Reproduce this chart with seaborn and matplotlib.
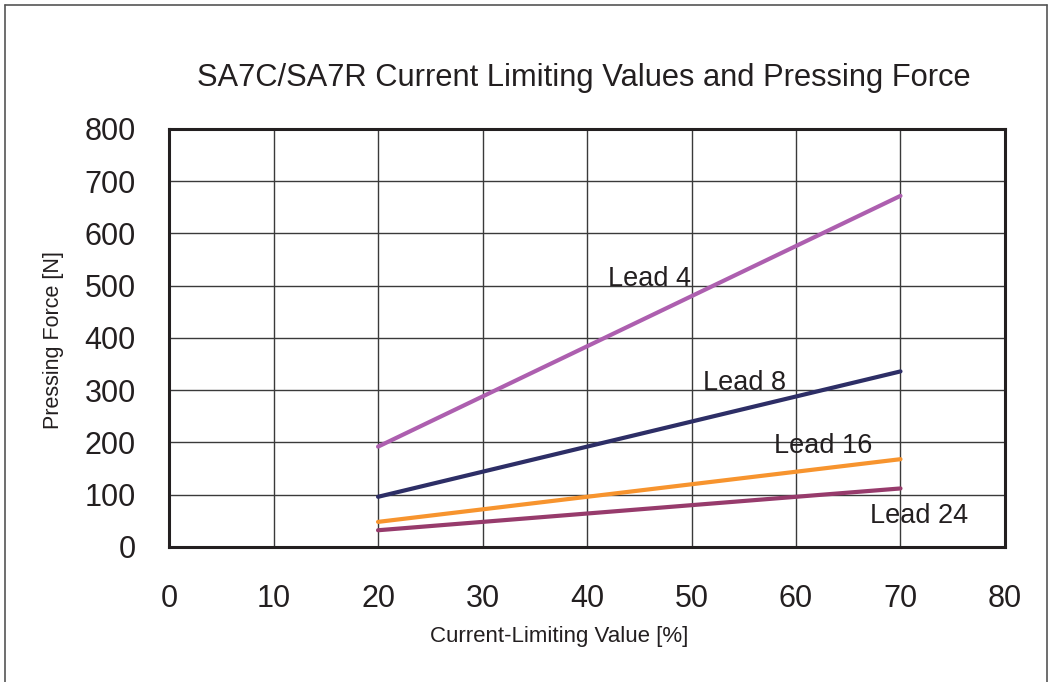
import pandas as pd
import seaborn as sns
import matplotlib.pyplot as plt
from matplotlib.lines import Line2D

# values
current_pct = [20, 30, 40, 50, 60, 70]
lead_4 = [192, 288, 384, 480, 576, 672]
lead_8 = [96, 144, 192, 240, 288, 336]
lead_16 = [48, 72, 96, 120, 144, 168]
lead_24 = [32, 48, 64, 80, 96, 112]
leads = ["Lead 4", "Lead 8", "Lead 16", "Lead 24"]
colors = ["#AD5FAF", "#2D2E66", "#F7942E", "#973B6C"]

df = pd.DataFrame({
    "current": current_pct * 4,
    "force": lead_4 + lead_8 + lead_16 + lead_24,
    "lead": [l for l in leads for _ in current_pct],
})

sns.set_style("white")
plt.rcParams["font.family"] = ["Liberation Sans", "DejaVu Sans"]

fig = plt.figure(figsize=(10.52, 6.82), dpi=100)
ax = fig.add_axes([0.1607, 0.198, 0.7946, 0.6129])

sns.lineplot(data=df, x="current", y="force", hue="lead", palette=colors,
             linewidth=3.0, legend=False, ax=ax, zorder=3)

ax.set_xlim(0, 80)
ax.set_ylim(0, 800)
ax.set_xticks(range(0, 81, 10))
ax.set_yticks(range(0, 801, 100))
ax.grid(True, color="#3a3a3a", linewidth=1.0)
ax.tick_params(axis="x", length=0, pad=27, labelsize=22, labelcolor="#231f20")
ax.tick_params(axis="y", direction="in", length=6, width=1, color="#888888",
               pad=24, labelsize=22, labelcolor="#231f20")
for s in ax.spines.values():
    s.set_visible(True)
    s.set_color("#231f20")
    s.set_linewidth(2.2)
ax.set_xlabel("")
ax.set_ylabel("")

# line labels
label_pos = {"Lead 4": (46, 513), "Lead 8": (55.1, 314),
             "Lead 16": (62.6, 193), "Lead 24": (71.8, 59)}
for name, (x, y) in label_pos.items():
    ax.text(x, y, name, ha="center", va="center", fontsize=19.5,
            color="#231f20", zorder=4)

fig.text(0.5547, 0.885, "SA7C/SA7R Current Limiting Values and Pressing Force",
         ha="center", va="center", fontsize=22.2, color="#231f20")
fig.text(0.5314, 0.0674, "Current-Limiting Value [%]", ha="center",
         va="center", fontsize=16, color="#231f20")
fig.text(0.0504, 0.5015, "Pressing Force [N]", ha="center", va="center",
         rotation=90, fontsize=15.5, color="#231f20")

# outer frame
for xs, ys in [([0.0048, 0.0048], [-0.01, 0.9927]),
               ([0.0048, 0.9952], [0.9927, 0.9927]),
               ([0.9952, 0.9952], [-0.01, 0.9927])]:
    fig.add_artist(Line2D(xs, ys, transform=fig.transFigure,
                          color="#555555", linewidth=1.2))

fig.savefig("out.png", dpi=100)
